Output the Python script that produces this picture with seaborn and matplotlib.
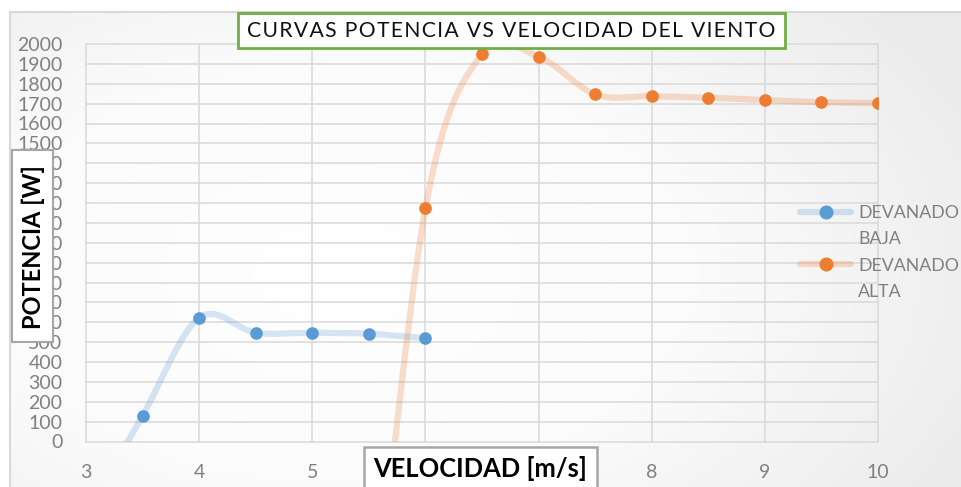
import numpy as np
import matplotlib
matplotlib.use("Agg")
import matplotlib.pyplot as plt
import seaborn as sns
from matplotlib.path import Path
from matplotlib.patches import PathPatch, Rectangle
from matplotlib.lines import Line2D
from matplotlib.colors import LinearSegmentedColormap

# values (first point of each series sits below the axis)
vel_baja = [3, 3.5, 4, 4.5, 5, 5.5, 6]
pot_baja = [-370, 130, 622, 547, 547, 542, 520]
vel_alta = [5.5, 6, 6.5, 7, 7.5, 8, 8.5, 9, 9.5, 10]
pot_alta = [-1200, 1173, 1950, 1936, 1747, 1737, 1730, 1718, 1707, 1703]

x_ticks = [3, 4, 5, 6, 7, 8, 9, 10]
y_ticks = list(range(0, 2001, 100))

BLUE = "#5b9bd5"
ORANGE = "#ed7d31"
W, H = 961, 487


def fx(px):
    return px / W


def fy(py):
    return 1 - py / H


def smooth_path(xs, ys):
    # excel style smoothed line: bezier pieces with catmull-rom handles
    pts = np.column_stack([xs, ys]).astype(float)
    n = len(pts)
    verts = [pts[0]]
    codes = [Path.MOVETO]
    for i in range(n - 1):
        p0 = pts[max(i - 1, 0)]
        p1 = pts[i]
        p2 = pts[i + 1]
        p3 = pts[min(i + 2, n - 1)]
        verts += [p1 + (p2 - p0) / 6, p2 - (p3 - p1) / 6, p2]
        codes += [Path.CURVE4] * 3
    return Path(verts, codes)


sns.set_style("white")
plt.rcParams["font.family"] = ["Lato", "DejaVu Sans"]

fig = plt.figure(figsize=(9.61, 4.87), dpi=100)
fig.patch.set_facecolor("white")

# chart area background (soft gradient like the excel style)
bg = fig.add_axes([fx(10), 0, 1 - fx(10), fy(12)])
bg.set_zorder(-1)
gx, gy = np.meshgrid(np.linspace(0, 1, 300), np.linspace(0, 1, 150))
dist = np.sqrt(((gx - 0.35) / 1.0) ** 2 + ((gy - 0.55) / 1.2) ** 2)
cmap = LinearSegmentedColormap.from_list("bg", ["#ffffff", "#fbfbfb", "#ebebeb"])
bg.imshow(dist, cmap=cmap, aspect="auto", extent=[0, 1, 0, 1], vmin=0, vmax=0.75)
bg.set_xticks([])
bg.set_yticks([])
for s in bg.spines.values():
    s.set_visible(False)
for side in ["left", "top"]:
    bg.spines[side].set_visible(True)
    bg.spines[side].set_color("#d9d9d9")
    bg.spines[side].set_linewidth(1.5)

ax = fig.add_axes([fx(86), fy(441.5), fx(878) - fx(86), fy(44) - fy(441.5)])
ax.patch.set_alpha(0)

ax.add_patch(PathPatch(smooth_path(vel_baja, pot_baja), fill=False, edgecolor=BLUE,
                       alpha=0.25, lw=4.5, capstyle="round", joinstyle="round", zorder=2))
ax.add_patch(PathPatch(smooth_path(vel_alta, pot_alta), fill=False, edgecolor=ORANGE,
                       alpha=0.25, lw=4.5, capstyle="round", joinstyle="round", zorder=2))
sns.scatterplot(x=vel_baja, y=pot_baja, color=BLUE, s=9.1 ** 2, linewidth=0,
                ax=ax, zorder=3, legend=False)
sns.scatterplot(x=vel_alta, y=pot_alta, color=ORANGE, s=9.1 ** 2, linewidth=0,
                ax=ax, zorder=3, legend=False)

ax.set_xlim(3, 10)
ax.set_ylim(0, 2000)
ax.set_xticks(x_ticks)
ax.set_yticks(y_ticks)
ax.set_xlabel("")
ax.set_ylabel("")
ax.grid(True, color="#d9d9d9", lw=1.1)
for gl in ax.get_xgridlines() + ax.get_ygridlines():
    gl.set_clip_on(False)
for s in ax.spines.values():
    s.set_visible(False)
ax.tick_params(axis="y", length=0, labelsize=14, labelcolor="#808080", pad=17)
ax.tick_params(axis="x", length=0, labelsize=14, labelcolor="#808080", pad=16)

# legend: first line of each label carries the marker
handles = [
    Line2D([], [], color=(0.357, 0.608, 0.835, 0.25), lw=4.5, marker="o",
           markersize=9.1, markerfacecolor=BLUE, markeredgecolor=BLUE),
    Line2D([], [], lw=0),
    Line2D([], [], color=(0.929, 0.490, 0.192, 0.25), lw=4.5, marker="o",
           markersize=9.1, markerfacecolor=ORANGE, markeredgecolor=ORANGE),
    Line2D([], [], lw=0),
]
labels = ["DEVANADO", "BAJA", "DEVANADO", "ALTA"]
fig.legend(handles, labels, loc="upper left", bbox_to_anchor=(fx(800), fy(205)),
           frameon=False, fontsize=12.8, labelcolor="#808080", handlelength=2.87,
           handletextpad=0.4, labelspacing=0.58, borderpad=0, borderaxespad=0)

# title box
fig.add_artist(Rectangle((fx(238), fy(48)), fx(785) - fx(238), fy(13) - fy(48),
                         transform=fig.transFigure, facecolor="white",
                         edgecolor="#70ad47", lw=2, zorder=4))
title = "\u200a".join("CURVAS POTENCIA VS VELOCIDAD DEL VIENTO")
fig.text(fx(511), fy(31), title, ha="center", va="center", fontsize=15.2,
         color="#111111", zorder=5)

# axis title boxes
fig.add_artist(Rectangle((fx(12), fy(342)), fx(53) - fx(12), fy(150) - fy(342),
                         transform=fig.transFigure, facecolor="white",
                         edgecolor="#a6a6a6", lw=1.5, zorder=4))
fig.text(fx(33), fy(247), "POTENCIA [W]", rotation=90, ha="center", va="center",
         fontsize=17, fontweight="bold", color="black", zorder=5)

fig.add_artist(Rectangle((fx(364), fy(492)), fx(597) - fx(364), fy(447) - fy(492),
                         transform=fig.transFigure, facecolor="white",
                         edgecolor="#a6a6a6", lw=1.8, zorder=4))
fig.text(fx(480.5), fy(468.5), "VELOCIDAD [m/s]", ha="center", va="center",
         fontsize=18.4, fontweight="bold", color="black", zorder=5)

fig.savefig("out.png", dpi=100, facecolor=fig.get_facecolor())
